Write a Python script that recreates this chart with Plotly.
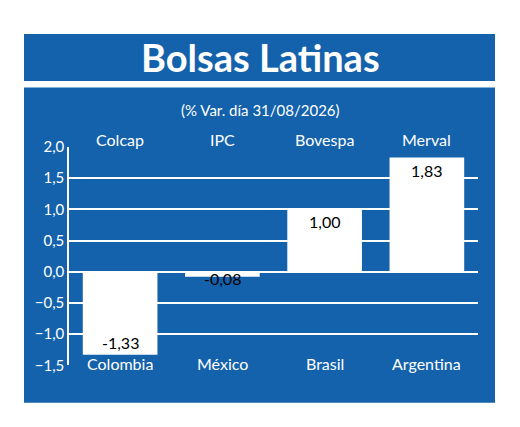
import plotly.graph_objects as go

indices = ["Colcap", "IPC", "Bovespa", "Merval"]
countries = ["Colombia", "México", "Brasil", "Argentina"]
values = [-1.33, -0.08, 1.00, 1.83]
y_ticks = [-1.5, -1.0, -0.5, 0.0, 0.5, 1.0, 1.5, 2.0]

BLUE = "#1462ac"
W, H = 520, 427
def px(y): return (H - y) / H

fig = go.Figure(go.Bar(x=list(range(4)), y=values, marker=dict(color="white", line=dict(width=0)),
                       width=0.73))

ann = []
for i, v in enumerate(values):
    txt = f"{v:.2f}".replace(".", ",")
    if abs(v) < 0.2:
        ann.append(dict(x=i, y=v, text=txt, showarrow=False, yanchor="middle", yshift=-2))
    elif v > 0:
        ann.append(dict(x=i, y=v, text=txt, showarrow=False, yanchor="top", yshift=-1))
    else:
        ann.append(dict(x=i, y=v, text=txt, showarrow=False, yanchor="bottom", yshift=1))
for a in ann:
    a["font"] = dict(color="black", size=16, family="Lato")
for i, (t, c) in enumerate(zip(indices, countries)):
    ann.append(dict(x=i, y=px(123), yref="paper", text=t, showarrow=False,
                    font=dict(color="white", size=16, family="Lato")))
    ann.append(dict(x=i, y=px(381), yref="paper", text=c, showarrow=False,
                    font=dict(color="white", size=16, family="Lato")))
ann.append(dict(x=0.5, xref="paper", y=px(93), yref="paper", text="(% Var. día 31/08/2026)",
                showarrow=False, font=dict(color="white", size=15, family="Lato")))
ann.append(dict(x=0.5, xref="paper", y=px(49), yref="paper", yanchor="middle",
                text="<b>Bolsas Latinas</b>",
                showarrow=False, font=dict(color="white", size=38, family="Lato")))

shapes = [
    dict(type="rect", xref="paper", yref="paper", x0=24/W, x1=495/W, y0=px(74), y1=px(25),
         fillcolor=BLUE, line=dict(width=0), layer="below"),
    dict(type="rect", xref="paper", yref="paper", x0=24/W, x1=495/W, y0=px(410), y1=px(81),
         fillcolor=BLUE, line=dict(width=0), layer="below"),
]

fig.update_layout(
    width=W, height=H, margin=dict(l=0, r=0, t=0, b=0), autosize=False,
    paper_bgcolor="white", plot_bgcolor="rgba(0,0,0,0)",
    separators=",.", showlegend=False, annotations=ann, shapes=shapes,
    xaxis=dict(domain=[69/W, 478/W], range=[-0.5, 3.5], showticklabels=False,
               showgrid=False, zeroline=False, fixedrange=True),
    yaxis=dict(domain=[px(371), px(143)], range=[-1.5, 2.0], tickvals=y_ticks,
               tickformat=".1f", gridcolor="white", gridwidth=1.5, zeroline=True,
               zerolinecolor="white", zerolinewidth=1.5, showline=True, linecolor="white",
               linewidth=1.5, tickfont=dict(color="white", size=15, family="Lato"), ticks="",
               fixedrange=True),
)
fig.write_html("out.html", config={"displayModeBar": False, "responsive": False})
with open("out.html", encoding="utf-8") as f:
    html = f.read()
html = html.replace("<head>", "<head><style>html,body{margin:0;padding:0;overflow:hidden;}</style>", 1)
with open("out.html", "w", encoding="utf-8") as f:
    f.write(html)
